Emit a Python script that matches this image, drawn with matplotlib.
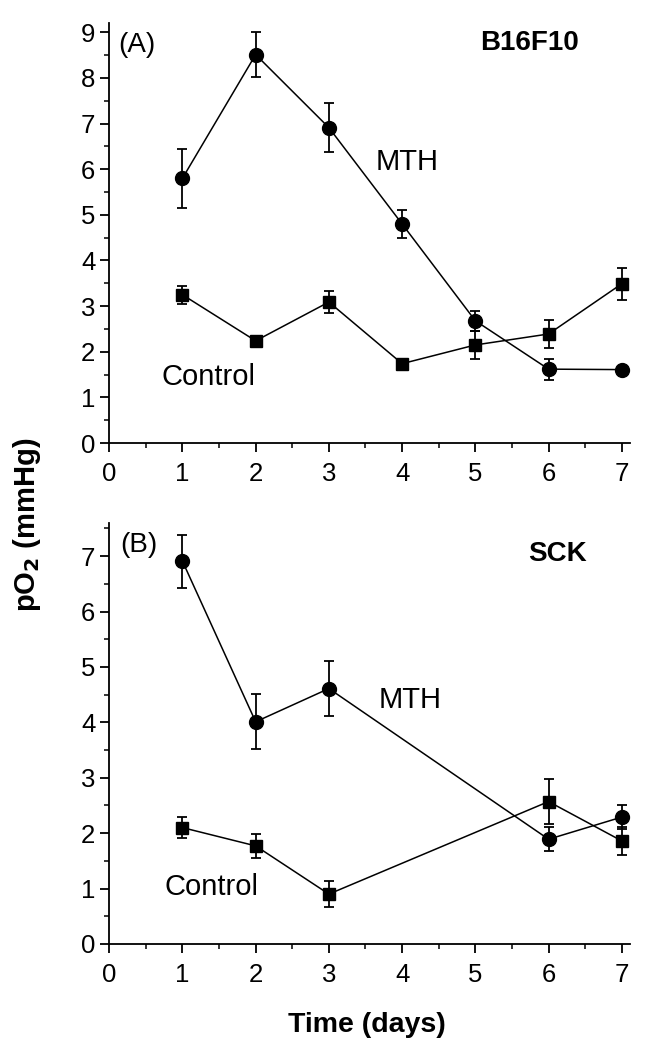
import matplotlib
matplotlib.use("Agg")
import matplotlib.pyplot as plt
from matplotlib.ticker import MultipleLocator

plt.rcParams['font.family'] = ['Liberation Sans', 'DejaVu Sans']

# Panel A: B16F10
days_a = [1, 2, 3, 4, 5, 6, 7]
mth_a = [5.80, 8.51, 6.91, 4.80, 2.68, 1.62, 1.61]
mth_a_err = [0.64, 0.50, 0.53, 0.30, 0.22, 0.23, 0.0]
ctrl_a = [3.25, 2.24, 3.09, 1.74, 2.15, 2.39, 3.49]
ctrl_a_err = [0.20, 0.10, 0.24, 0.05, 0.31, 0.30, 0.35]

# Panel B: SCK
days_b = [1, 2, 3, 6, 7]
mth_b = [6.91, 4.01, 4.61, 1.89, 2.29]
mth_b_err = [0.48, 0.50, 0.49, 0.22, 0.21]
ctrl_b = [2.10, 1.77, 0.90, 2.57, 1.86]
ctrl_b_err = [0.19, 0.22, 0.24, 0.40, 0.25]

fig = plt.figure(figsize=(6.5, 10.5), dpi=100)
ax1 = fig.add_axes([0.168, 0.578, 0.801, 0.400])
ax2 = fig.add_axes([0.168, 0.101, 0.801, 0.401])


def draw(ax, days, mth, mth_err, ctrl, ctrl_err):
    ax.errorbar(days, mth, yerr=mth_err, color='black', marker='o', ms=10,
                lw=1.1, capsize=3.3, elinewidth=1.3, capthick=1.3)
    ax.errorbar(days, ctrl, yerr=ctrl_err, color='black', marker='s', ms=8,
                lw=1.1, capsize=3.3, elinewidth=1.3, capthick=1.3)
    for s in ['top', 'right']:
        ax.spines[s].set_visible(False)
    for s in ['left', 'bottom']:
        ax.spines[s].set_linewidth(1.3)
    ax.xaxis.set_major_locator(MultipleLocator(1))
    ax.xaxis.set_minor_locator(MultipleLocator(0.5))
    ax.yaxis.set_major_locator(MultipleLocator(1))
    ax.yaxis.set_minor_locator(MultipleLocator(0.5))
    ax.tick_params(which='major', length=6.5, width=1.3, labelsize=18.5)
    ax.tick_params(which='minor', length=3.5, width=1.1)
    ax.tick_params(axis='x', which='major', pad=7)
    ax.set_xlim(0, 7.11)


draw(ax1, days_a, mth_a, mth_a_err, ctrl_a, ctrl_a_err)
ax1.set_ylim(0, 9.2)
ax1.text(0.13, 8.72, "(A)", fontsize=20, va='center')
ax1.text(5.06, 8.76, "B16F10", fontsize=20, fontweight='bold', va='center')
ax1.text(3.64, 6.15, "MTH", fontsize=21, va='center')
ax1.text(0.72, 1.45, "Control", fontsize=21, va='center')

draw(ax2, days_b, mth_b, mth_b_err, ctrl_b, ctrl_b_err)
ax2.set_ylim(0, 7.6)
ax2.text(0.15, 7.2, "(B)", fontsize=20, va='center')
ax2.text(5.72, 7.03, "SCK", fontsize=20, fontweight='bold', va='center')
ax2.text(3.68, 4.4, "MTH", fontsize=21, va='center')
ax2.text(0.76, 1.03, "Control", fontsize=21, va='center')

fig.text(0.042, 0.5, "pO$_\\mathbf{2}$ (mmHg)", rotation=90, fontsize=21,
         fontweight='bold', ha='center', va='center')
fig.text(0.565, 0.024, "Time (days)", fontsize=20.5, fontweight='bold',
         ha='center', va='center')

plt.savefig("out.png", dpi=100)
